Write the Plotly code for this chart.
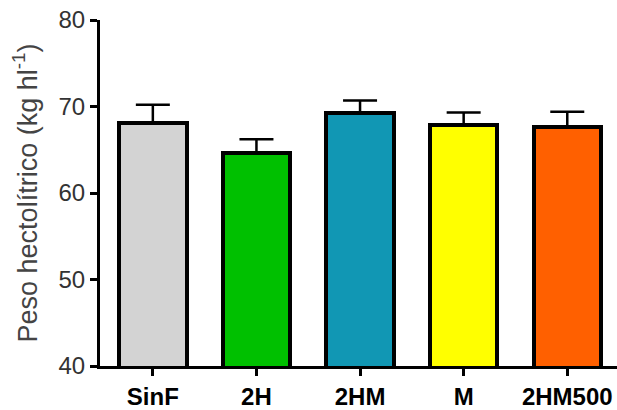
import plotly.graph_objects as go

categories = ["SinF", "2H", "2HM", "M", "2HM500"]
means = [68.1, 64.6, 69.2, 67.9, 67.6]
sem = [2.1, 1.6, 1.5, 1.4, 1.8]
colors = ["#D3D3D3", "#00C000", "#1197B4", "#FFFF00", "#FF6000"]
y_ticks = [40, 50, 60, 70, 80]

fig = go.Figure()
fig.add_trace(go.Bar(
    x=categories, y=means, width=0.65,
    marker=dict(color=colors, line=dict(color="black", width=4)),
    error_y=dict(type="data", array=sem, arrayminus=[0]*len(sem), symmetric=False,
                 color="black", thickness=2.5, width=17),
))

fig.update_layout(
    width=617, height=410,
    margin=dict(l=100, r=0, t=20, b=42),
    paper_bgcolor="white", plot_bgcolor="white",
    showlegend=False, bargap=0,
    font=dict(family="Liberation Sans, Arial", size=24, color="#333333"),
)
fig.update_xaxes(
    range=[-0.51, 4.48], showline=True, linewidth=3, linecolor="black",
    ticks="outside", ticklen=7, tickwidth=3, tickcolor="black",
    tickfont=dict(family="Liberation Sans, Arial", size=24, color="black", weight="bold"),
    showgrid=False, zeroline=False,
)
fig.update_yaxes(
    range=[40, 80], tickvals=y_ticks, showline=True, linewidth=3, linecolor="black",
    ticks="outside", ticklen=7, tickwidth=3, tickcolor="black",
    tickfont=dict(size=24, color="#333333"),
    showgrid=False, zeroline=False,
    title=dict(text="Peso hectolítrico (kg hl<sup>-1</sup>)", font=dict(size=27, color="#444444"), standoff=14),
)

fig.write_html("out.html")
